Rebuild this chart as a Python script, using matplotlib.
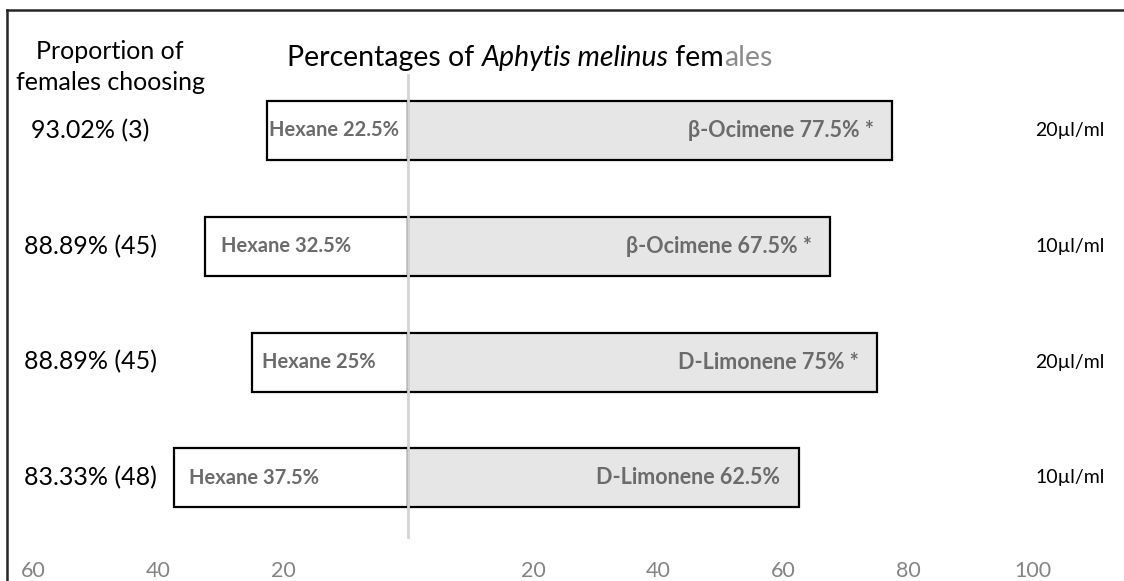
import matplotlib

matplotlib.use("Agg")
import matplotlib.pyplot as plt  # noqa: E402
from matplotlib.lines import Line2D  # noqa: E402

plt.rcParams["font.family"] = ["Lato", "DejaVu Sans"]

# data
hexane = [22.5, 32.5, 25.0, 37.5]
treatment = [77.5, 67.5, 75.0, 62.5]
compound = ["β-Ocimene", "β-Ocimene", "D-Limonene", "D-Limonene"]
signif = [" *", " *", " *", ""]
choosing = ["93.02% (3)", "88.89% (45)", "88.89% (45)", "83.33% (48)"]
dose = ["20µl/ml", "10µl/ml", "20µl/ml", "10µl/ml"]
ticks = [-60, -40, -20, 20, 40, 60, 80, 100]

LABEL_GREY = "#6b6b6b"
hex_pad = [0.3, 2.5, 1.6, 2.5]

W, H = 1124, 581
X0, SX = 408.0, 6.25          # centre pixel, pixels per percent
Y0, SY = 130.5, 115.8         # first row centre pixel, pixels per row


def px(x):
    return (x - X0) / SX


def py(y):
    return (y - Y0) / SY


fig = plt.figure(figsize=(W / 100, H / 100), dpi=100)
ax = fig.add_axes([0, 0, 1, 1])
ax.set_xlim(px(0), px(W))
ax.set_ylim(py(H), py(0))
ax.axis("off")

rows = list(range(len(hexane)))
bar_h = 59 / SY
ax.barh(rows, [-h for h in hexane], height=bar_h, color="white",
        edgecolor="black", linewidth=1.6, zorder=2)
ax.barh(rows, treatment, height=bar_h, color="#e7e6e6",
        edgecolor="black", linewidth=1.6, zorder=2)
ax.plot([0, 0], [py(75), py(537)], color="#d4d4d4", linewidth=2, zorder=3)

for i in rows:
    ax.text(-hexane[i] + hex_pad[i], i, f"Hexane {hexane[i]:g}%", ha="left", va="center",
            fontsize=14.5, fontweight="bold", color=LABEL_GREY, zorder=4)
    ax.text(treatment[i] - 2.9, i, f"{compound[i]} {treatment[i]:g}%{signif[i]}",
            ha="right", va="center", fontsize=15.5, fontweight="bold",
            color=LABEL_GREY, zorder=4)
    ax.text(px(90), i, choosing[i], ha="center", va="center", fontsize=18, color="black")
    ax.text(px(1070), i, dose[i], ha="center", va="center", fontsize=14, color="black")

for t in ticks:
    ax.text(t, py(571), f"{abs(t)}", ha="center", va="center", fontsize=15.5, color="#848484")

ax.text(px(110), py(67), "Proportion of\nfemales choosing", ha="center", va="center",
        fontsize=18, color="black", linespacing=1.4)

# title in pieces: normal / italic / normal / grey
t1 = ax.text(px(287), py(66), "Percentages of ", ha="left", va="baseline",
             fontsize=20.5, color="black")
t2 = ax.annotate("Aphytis melinus", xy=(1, 0), xycoords=t1, va="bottom",
                 fontsize=20.5, style="italic", color="black")
t3 = ax.annotate(" fem", xy=(1, 0), xycoords=t2, va="bottom", fontsize=20.5, color="black")
ax.annotate("ales", xy=(1, 0), xycoords=t3, va="bottom", fontsize=20.5, color="#8c8c8c")

# outer frame (top and left edges)
fig.add_artist(Line2D([7 / W, 1], [1 - 10 / H, 1 - 10 / H], color="#262626", linewidth=1.8))
fig.add_artist(Line2D([7 / W, 7 / W], [0, 1 - 10 / H], color="#262626", linewidth=1.8))

fig.savefig("out.png", dpi=100)
